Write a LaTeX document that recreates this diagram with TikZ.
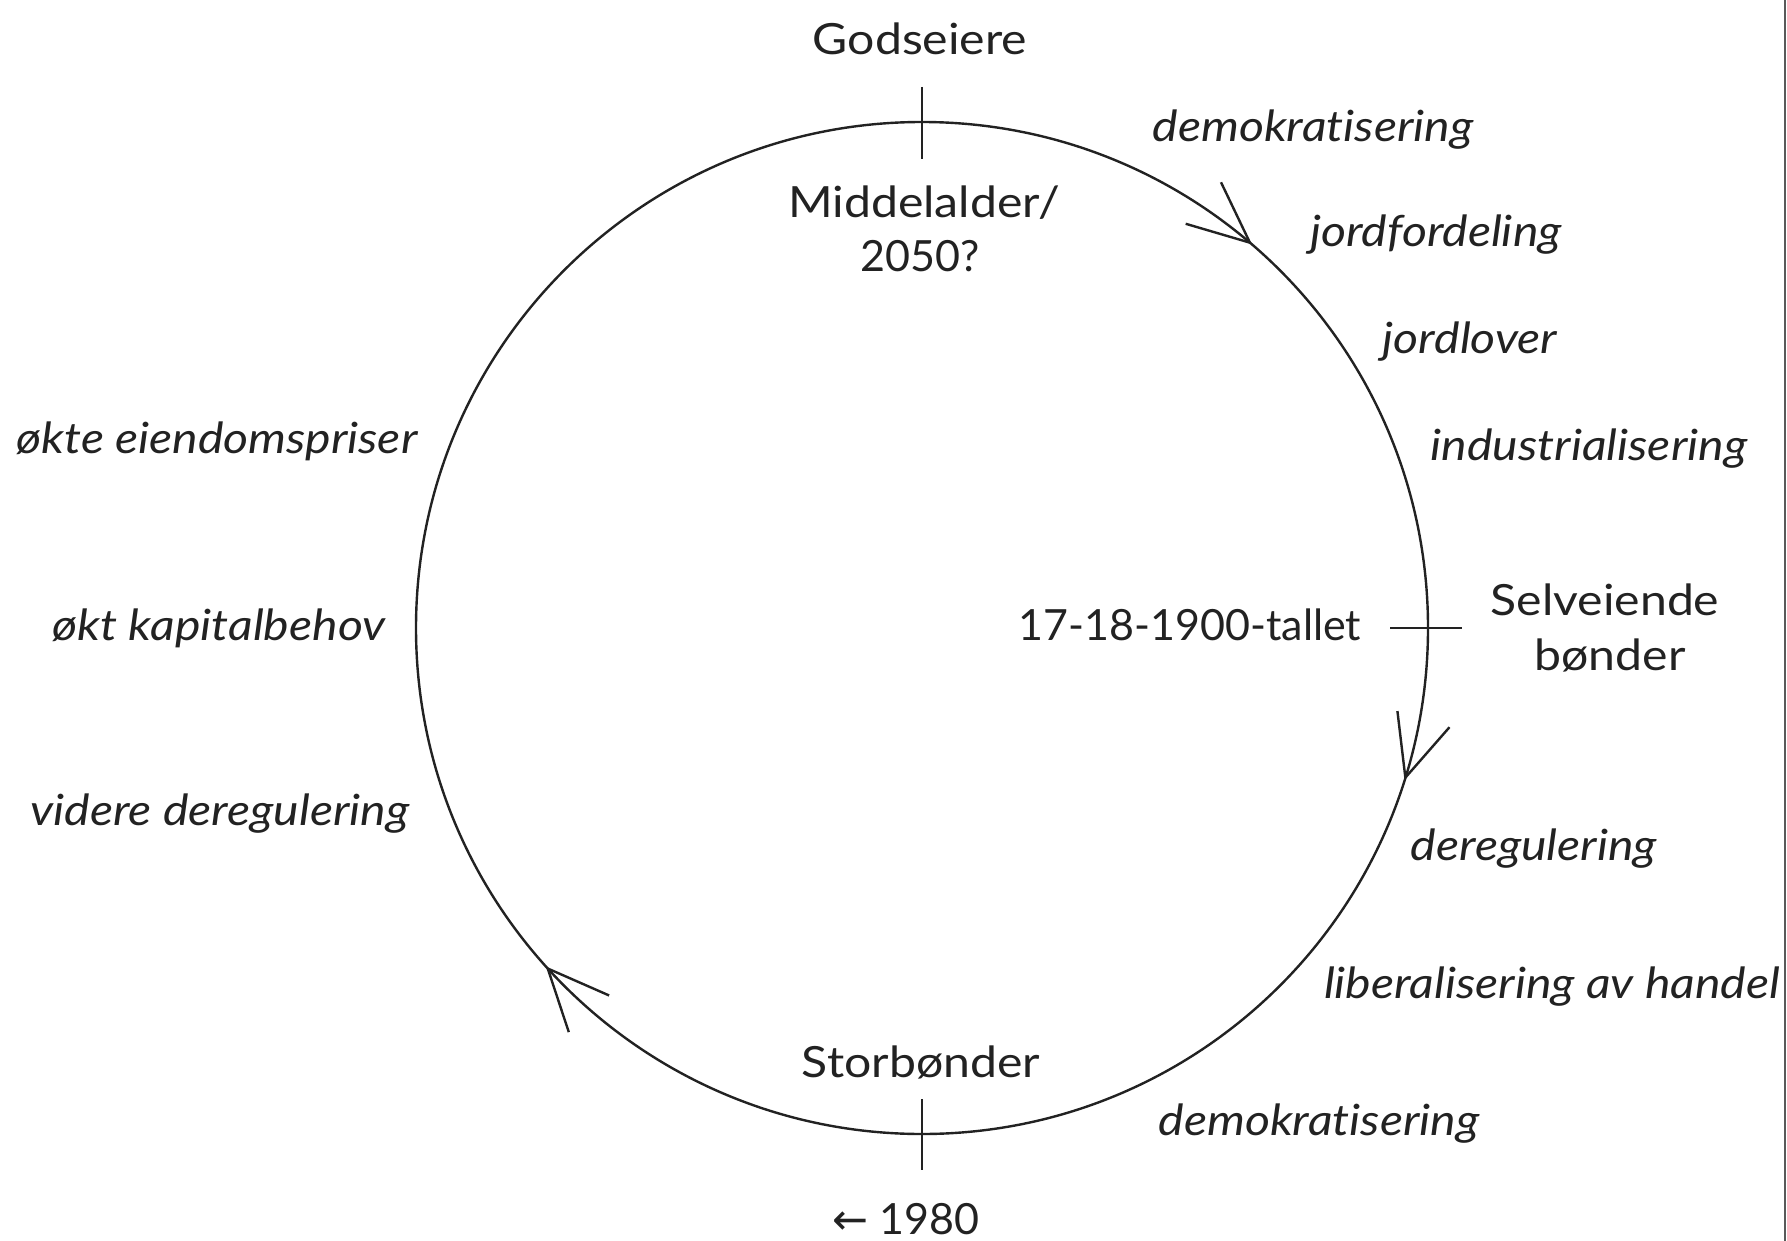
\documentclass[tikz,border=0pt]{standalone}
\usepackage{fontspec}
\setmainfont{Lato}[FakeStretch=1.12,Ligatures=NoCommon]
\newfontfamily\plainfont{Lato}
\newfontfamily\symfont{DejaVu Sans}
\usetikzlibrary{calc}
\definecolor{ink}{HTML}{222222}
\begin{document}
\begin{tikzpicture}[x=1pt,y=-1pt,
  lbl/.style={inner sep=0pt,anchor=base,text=ink,font=\fontsize{43}{52}\selectfont},
  nlbl/.style={lbl,font=\fontsize{43}{52}\selectfont\plainfont},
  ilbl/.style={lbl,font=\fontsize{43}{52}\selectfont\itshape},
  ring/.style={draw=ink,line width=2.4pt},
  tick/.style={draw=ink,line width=2.4pt},
  head/.style={draw=ink,line width=2.4pt,line join=miter}]
\fill[white] (0,0) rectangle (1787,1241);
\useasboundingbox (0,0) rectangle (1787,1241);
\draw[gray!70!black,line width=1.5pt] (1785,0) -- (1785,1241);

\coordinate (c) at (922,628);
\draw[ring] (c) circle[radius=506];

% ticks
\coordinate (ttop) at ($(c)+(0,-506)$);
\coordinate (tbot) at ($(c)+(0,506)$);
\coordinate (trt) at ($(c)+(506,0)$);
\draw[tick] ($(ttop)+(0,-35)$) -- ($(ttop)+(0,37)$);
\draw[tick] ($(tbot)+(0,-35)$) -- ($(tbot)+(0,36)$);
\draw[tick] ($(trt)+(-38,0)$) -- ($(trt)+(34,0)$);

% arrowheads (clockwise)
\path (c) ++(310.4:506) coordinate (a1);
\path (c) ++(17.2:506) coordinate (a2);
\path (c) ++(137.7:506) coordinate (a3);
\draw[head] ($(a1)+(310.4-66:67)$) -- (a1) -- ($(a1)+(310.4-114:67)$);
\draw[head] ($(a2)+(17.2-66:67)$) -- (a2) -- ($(a2)+(17.2-114:67)$);
\draw[head] ($(a3)+(137.7-66:67)$) -- (a3) -- ($(a3)+(137.7-114:67)$);

% upright labels
\node[lbl] (gods) at (920,55) {Godseiere};
\node[lbl] (mid1) at (924,218) {Middelalder/};
\node[nlbl] (mid2) at (920,272) {2050?};
\node[nlbl] (tall) at (1190,640) {17-18-1900-tallet};
\node[lbl] (selv1) at (1605,615) {Selveiende};
\node[lbl] (selv2) at (1610,670) {bønder};
\node[lbl] (stor) at (921,1077) {Storbønder};
\node[nlbl] (year) at (906,1234) {{\symfont ←} 1980};

% italic labels
\node[ilbl] (dem1) at (1313,142) {demokrat\kern0pt isering};
\node[ilbl] (jordf) at (1436,247) {jordfordeling};
\node[ilbl] (jordl) at (1470,353) {jordlover};
\node[ilbl] (indu) at (1589,460) {industrialisering};
\node[ilbl] (dereg) at (1534,860) {deregulering};
\node[ilbl] (liber) at (1552,998) {liberalisering av handel};
\node[ilbl] (dem2) at (1319,1135) {demokrat\kern0pt isering};
\node[ilbl] (eien) at (217,453) {økte eiendomspriser};
\node[ilbl] (kap) at (219,640) {økt kapitalbehov};
\node[ilbl] (vid) at (220,825) {videre deregulering};
\end{tikzpicture}
\end{document}
